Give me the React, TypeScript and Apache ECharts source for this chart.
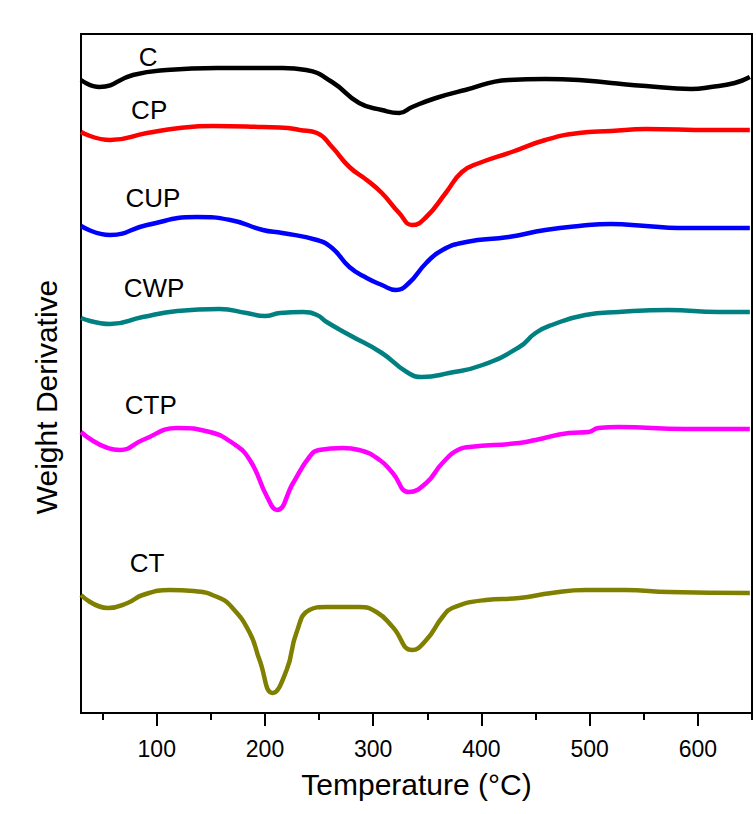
import { useEffect, useRef } from "react";
import * as echarts from "echarts";

// DTG curves: [temperature °C, weight derivative (a.u., curves offset vertically)]
const curveC: [number, number][] = [
  [30, 6.33], [47, 6.26], [78, 6.38], [109, 6.43], [156, 6.45], [216, 6.45],
  [238, 6.43], [262, 6.31], [287, 6.1], [308, 6.03], [324, 6.0], [336, 6.06],
  [358, 6.15], [385, 6.23], [425, 6.33], [459, 6.34], [490, 6.33], [520, 6.3],
  [552, 6.27], [594, 6.24], [612, 6.26], [634, 6.3], [648, 6.36],
];
const curveCP: [number, number][] = [
  [30, 5.81], [57, 5.73], [91, 5.8], [121, 5.85], [152, 5.87], [198, 5.86],
  [221, 5.85], [232, 5.83], [248, 5.8], [262, 5.66], [278, 5.46], [294, 5.33],
  [308, 5.2], [324, 5.0], [336, 4.88], [349, 4.96], [367, 5.2], [382, 5.41],
  [398, 5.5], [428, 5.61], [459, 5.73], [490, 5.8], [520, 5.82], [552, 5.84],
  [612, 5.83], [648, 5.83],
];
const curveCUP: [number, number][] = [
  [30, 4.87], [57, 4.78], [91, 4.88], [137, 4.96], [168, 4.93], [198, 4.83],
  [216, 4.8], [248, 4.73], [262, 4.65], [278, 4.46], [294, 4.35], [308, 4.28],
  [321, 4.23], [333, 4.3], [349, 4.5], [364, 4.63], [386, 4.71], [425, 4.76],
  [459, 4.83], [490, 4.87], [520, 4.89], [552, 4.87], [582, 4.85], [648, 4.85],
];
const curveCWP: [number, number][] = [
  [30, 3.95], [57, 3.89], [87, 3.96], [119, 4.02], [158, 4.04], [183, 4.0],
  [200, 3.97], [214, 4.0], [235, 4.01], [248, 3.98], [257, 3.91], [278, 3.78],
  [308, 3.6], [331, 3.41], [345, 3.36], [370, 3.4], [401, 3.48], [435, 3.66],
  [450, 3.8], [465, 3.88], [496, 3.98], [527, 4.01], [573, 4.03], [619, 4.01],
  [648, 4.01],
];
const curveCTP: [number, number][] = [
  [30, 2.81], [66, 2.63], [87, 2.73], [119, 2.85], [149, 2.81], [170, 2.7],
  [186, 2.53], [202, 2.16], [211, 2.03], [226, 2.3], [241, 2.56], [250, 2.63],
  [272, 2.65], [287, 2.63], [306, 2.53], [318, 2.4], [333, 2.21], [349, 2.3],
  [364, 2.5], [380, 2.64], [389, 2.66], [435, 2.7], [450, 2.73], [481, 2.8],
  [499, 2.81], [508, 2.85], [527, 2.86], [588, 2.84], [648, 2.84],
];
const curveCT: [number, number][] = [
  [30, 1.18], [55, 1.05], [73, 1.1], [87, 1.18], [112, 1.23], [134, 1.22],
  [156, 1.16], [170, 1.05], [186, 0.8], [195, 0.53], [207, 0.2], [220, 0.43],
  [229, 0.8], [241, 1.03], [257, 1.06], [287, 1.06], [303, 1.01], [318, 0.86],
  [336, 0.63], [349, 0.73], [364, 0.96], [373, 1.05], [404, 1.13], [435, 1.15],
  [465, 1.2], [496, 1.23], [533, 1.23], [573, 1.21], [648, 1.2],
];

const seriesNames = ["C", "CP", "CUP", "CWP", "CTP", "CT"];
const seriesColors = ["#000000", "#ff0000", "#0000ff", "#008080", "#ff00ff", "#808000"];
const seriesCurves = [curveC, curveCP, curveCUP, curveCWP, curveCTP, curveCT];
// where each sample name is written, in data coordinates
const nameAnchors: [number, number][] = [
  [92, 6.56], [93, 6.03], [96.5, 5.15], [97.5, 4.25], [94.5, 3.08], [91, 1.5],
];

const tempMajorTicks = [100, 200, 300, 400, 500, 600];
const tempMinorTicks = [50, 150, 250, 350, 450, 550, 650];
const tempRange: [number, number] = [30, 650];
const derivRange: [number, number] = [0, 6.79];

const FONT = "'Liberation Sans', Arial, sans-serif";

export default function App() {
  const ref = useRef<HTMLDivElement>(null);

  useEffect(() => {
    const chart = echarts.init(ref.current!, null, { renderer: "svg" });
    chart.setOption({
      animation: false,
      backgroundColor: "#ffffff",
      textStyle: { fontFamily: FONT },
      grid: {
        left: 81,
        top: 34,
        width: 671,
        height: 679,
        show: true,
        borderColor: "#000",
        borderWidth: 2,
        containLabel: false,
        outerBoundsMode: "none",
      },
      xAxis: [
        {
          type: "value",
          min: tempRange[0],
          max: tempRange[1],
          position: "bottom",
          name: "Temperature (°C)",
          nameLocation: "middle",
          nameGap: 56,
          nameTextStyle: { fontSize: 30, color: "#000", fontFamily: FONT },
          axisLine: { show: false },
          axisTick: {
            show: true,
            inside: false,
            length: 13,
            customValues: tempMajorTicks,
            lineStyle: { color: "#000", width: 2 },
          },
          axisLabel: {
            show: true,
            customValues: tempMajorTicks,
            margin: 24,
            fontSize: 23,
            color: "#000",
            fontFamily: FONT,
          },
          splitLine: { show: false },
        },
        {
          type: "value",
          min: tempRange[0],
          max: tempRange[1],
          position: "bottom",
          axisLine: { show: false },
          axisTick: {
            show: true,
            inside: false,
            length: 7,
            customValues: tempMinorTicks,
            lineStyle: { color: "#000", width: 2 },
          },
          axisLabel: { show: false },
          splitLine: { show: false },
        },
      ],
      yAxis: {
        type: "value",
        min: derivRange[0],
        max: derivRange[1],
        axisLine: { show: false },
        axisTick: { show: false },
        axisLabel: { show: false },
        splitLine: { show: false },
      },
      graphic: [
        {
          type: "text",
          x: 46,
          y: 397,
          rotation: Math.PI / 2,
          style: {
            text: "Weight Derivative",
            fontSize: 30,
            fontFamily: FONT,
            fill: "#000",
            align: "center",
            verticalAlign: "middle",
          },
        },
      ],
      series: seriesNames.map((name, i) => ({
        name,
        type: "line",
        xAxisIndex: 0,
        data: seriesCurves[i],
        smooth: 0.5,
        showSymbol: false,
        symbol: "none",
        lineStyle: { color: seriesColors[i], width: 4.5 },
        itemStyle: { color: seriesColors[i] },
        markPoint: {
          symbol: "circle",
          symbolSize: 1,
          itemStyle: { color: "rgba(0,0,0,0)" },
          label: {
            show: true,
            position: "inside",
            formatter: name,
            fontSize: 26,
            color: "#000",
            fontFamily: FONT,
          },
          data: [{ coord: nameAnchors[i] }],
        },
      })),
    });
    return () => chart.dispose();
  }, []);

  return (
    <div
      ref={ref}
      style={{ position: "fixed", left: 0, top: 0, width: 756, height: 814, background: "#fff" }}
    />
  );
}
